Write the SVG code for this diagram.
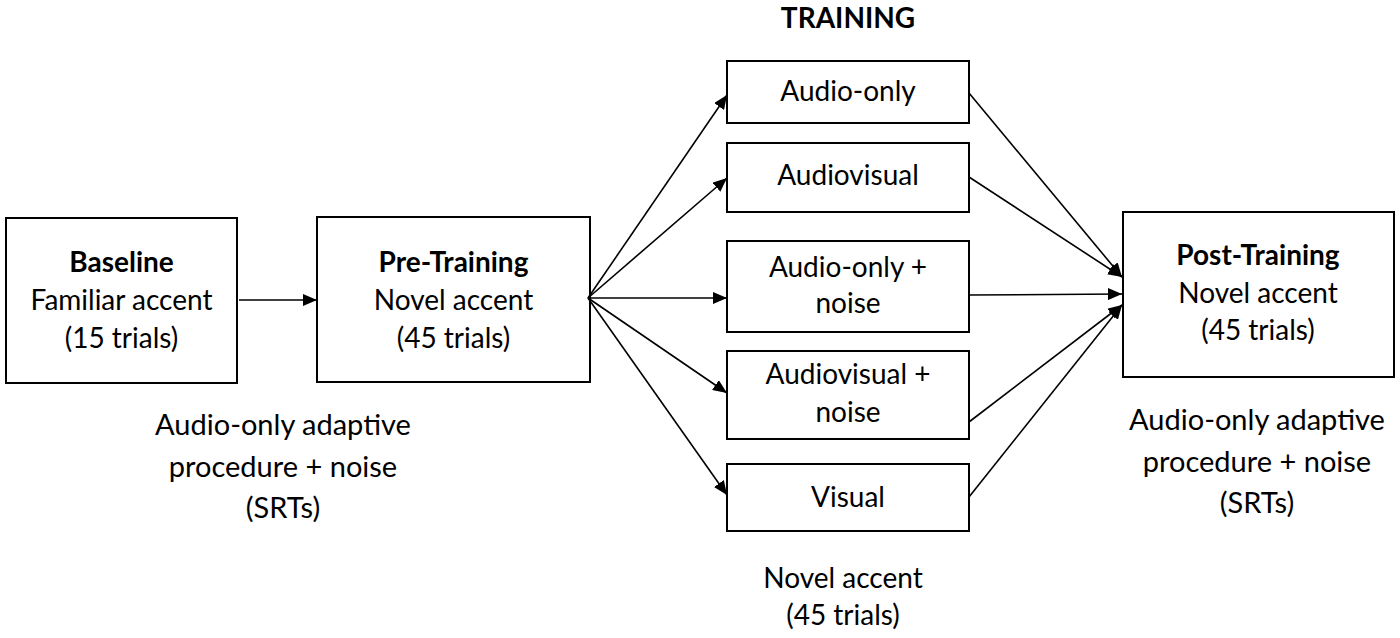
<svg xmlns="http://www.w3.org/2000/svg" width="1400" height="638" viewBox="0 0 1400 638">
<defs>
<style>
.box{fill:#fff;stroke:#000;stroke-width:2}
.t{font-family:Lato,"Liberation Sans",sans-serif;font-size:28px;fill:#000;text-anchor:middle}
.b{font-weight:bold}
.lbl{font-size:29px}
.con{fill:none;stroke:#000;stroke-width:1.6;marker-end:url(#ah)}
</style>
<marker id="ah" markerUnits="userSpaceOnUse" markerWidth="14" markerHeight="12" refX="14" refY="6" orient="auto">
<path d="M0,0 L14,6 L0,12 Z" fill="#000"/>
</marker>
</defs>
<rect width="1400" height="638" fill="#fff"/>
<text class="t b" x="848" y="28">TRAINING</text>

<g id="baseline">
<rect class="box" x="6" y="218" width="231" height="165"/>
<text class="t b" x="121.5" y="272">Baseline</text>
<text class="t" x="121.5" y="310">Familiar accent</text>
<text class="t" x="121.5" y="348">(15 trials)</text>
</g>
<g id="pretraining">
<rect class="box" x="317" y="217" width="273" height="165"/>
<text class="t b" x="453.5" y="272">Pre-Training</text>
<text class="t" x="453.5" y="310">Novel accent</text>
<text class="t" x="453.5" y="348">(45 trials)</text>
</g>
<g id="audio-only">
<rect class="box" x="727" y="61" width="242" height="62"/>
<text class="t" x="848" y="101">Audio-only</text>
</g>
<g id="audiovisual">
<rect class="box" x="727" y="143" width="242" height="69"/>
<text class="t" x="848" y="185">Audiovisual</text>
</g>
<g id="audio-only-noise">
<rect class="box" x="727" y="241" width="242" height="91"/>
<text class="t" x="848" y="277">Audio-only +</text>
<text class="t" x="848" y="313">noise</text>
</g>
<g id="audiovisual-noise">
<rect class="box" x="727" y="351" width="242" height="88"/>
<text class="t" x="848" y="384">Audiovisual +</text>
<text class="t" x="848" y="422">noise</text>
</g>
<g id="visual">
<rect class="box" x="727" y="464" width="242" height="67"/>
<text class="t" x="848" y="507">Visual</text>
</g>
<g id="posttraining">
<rect class="box" x="1123" y="212" width="271" height="165"/>
<text class="t b" x="1258" y="265">Post-Training</text>
<text class="t" x="1258" y="303">Novel accent</text>
<text class="t" x="1258" y="340">(45 trials)</text>
</g>

<g id="labels">
<text class="t lbl" x="283" y="435">Audio-only adaptive</text>
<text class="t lbl" x="283" y="477">procedure + noise</text>
<text class="t lbl" x="283" y="518">(SRTs)</text>
<text class="t lbl" x="1257" y="430">Audio-only adaptive</text>
<text class="t lbl" x="1257" y="472">procedure + noise</text>
<text class="t lbl" x="1257" y="513">(SRTs)</text>
<text class="t" x="843" y="588">Novel accent</text>
<text class="t" x="843" y="625">(45 trials)</text>
</g>

<g id="connectors">
<path class="con" d="M239,300 L317,300"/>
<path class="con" d="M588,298 L727,95"/>
<path class="con" d="M588,298 L727,178"/>
<path class="con" d="M588,298 L727,298"/>
<path class="con" d="M588,298 L727,393"/>
<path class="con" d="M588,298 L727,495"/>
<path class="con" d="M969,93 L1122,277"/>
<path class="con" d="M969,177 L1122,277"/>
<path class="con" d="M969,295 L1122,294"/>
<path class="con" d="M969,422 L1122,305"/>
<path class="con" d="M969,497 L1122,305"/>
</g>
</svg>
